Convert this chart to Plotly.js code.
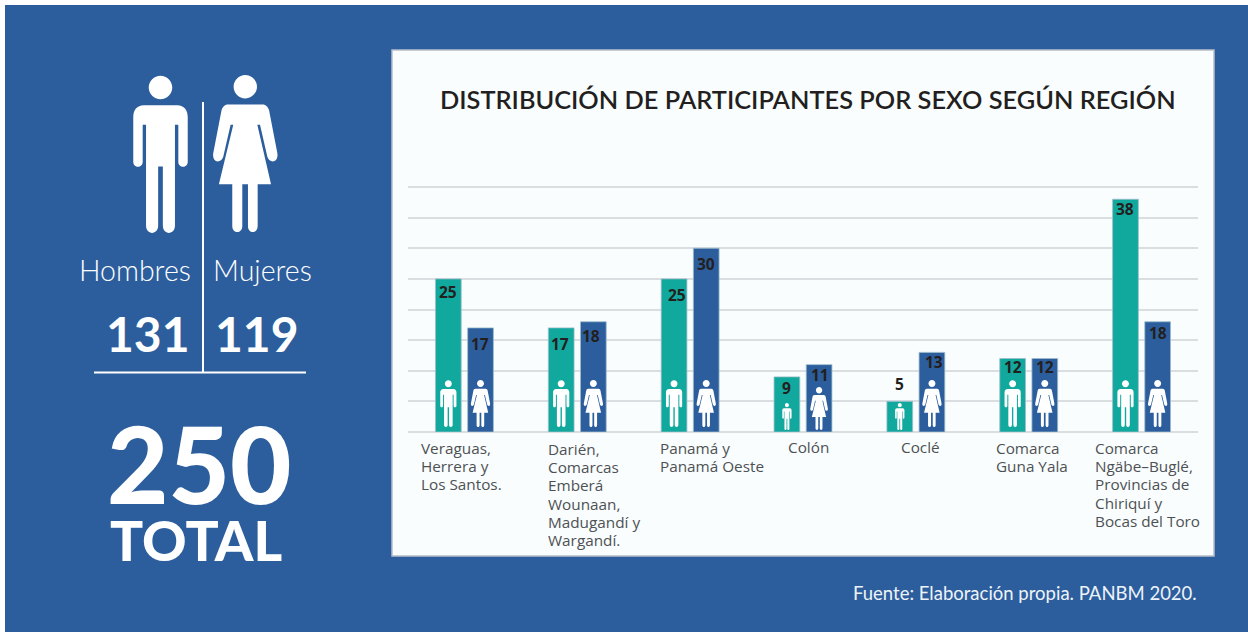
<!DOCTYPE html>
<html><head><meta charset="utf-8">
<script src="https://cdn.plot.ly/plotly-3.0.1.min.js"></script>
<style>html,body{margin:0;padding:0;background:#fff;overflow:hidden}#c{width:1248px;height:632px}</style>
</head><body><div id="c"></div>
<script>
// ---- data ----
const categories = [
  'Veraguas,<br>Herrera y<br>Los Santos.',
  'Darién,<br>Comarcas<br>Emberá<br>Wounaan,<br>Madugandí y<br>Wargandí.',
  'Panamá y<br>Panamá Oeste',
  'Colón',
  'Coclé',
  'Comarca<br>Guna Yala',
  'Comarca<br>Ngäbe–Buglé,<br>Provincias de<br>Chiriquí y<br>Bocas del Toro'
];
const hombres = [25, 17, 25, 9, 5, 12, 38];
const mujeres = [17, 18, 30, 11, 13, 12, 18];
const totalHombres = 131, totalMujeres = 119, total = 250;
const titleText = 'DISTRIBUCIÓN DE PARTICIPANTES POR SEXO SEGÚN REGIÓN';
const sourceText = 'Fuente: Elaboración propia. PANBM 2020.';

// ---- styling / placement tables ----
// T sits 2px above the 40 gridline so that Plotly does not clip the top gridline
const W = 1248, H = 632, L = 408, R = 1198, T = 185, B = 432, PX_PER_UNIT = 6.125;
const TEAL = '#11a89d', BLUE = '#2c5e9e', INK = '#231f20', GRID = '#dadee1';
const labelDxH = [0, -1, 3, 0, 0, 0, 0], labelDxM = [-1, -2, 0, 1, 2, 0, 0];
const labelDownH = [13, 16, 16, 11, -17, 8, 10], labelDownM = [16, 14, 16, 10, 10, 8, 11];
const manIconH = [47, 47, 47, 27, 27, 47, 47], womanIconH = [47, 47, 47, 43, 47, 47, 47];
const iconLift = h => (h < 47 ? 2 : 5);
const catLabelShift = [-45.5, -31.5, -32.5, -17.5, -16.5, -35.2, -49];
const catLabelY = [448, 449, 447.5, 446.5, 446.5, 448, 448];
const LINE_PITCH = 18.2;
const SLOT = 0.1425;

const px = x => (x - L) / (R - L), py = y => (B - y) / (B - T);

// icon outlines, drawn 470 units tall, origin at feet centre, y up
const MAN = 'M-35,433 C-35,452 -19,468 0,468 C19,468 35,452 35,433 C35,414 19,398 0,398 C-19,398 -35,414 -35,433 Z ' +
  'M-50,380 L50,380 C70,380 81,365 81,345 L81,212 C81,192 53,192 53,212 L53,322 L43,322 L43,22 C43,-7 7,-7 7,22 L7,198 L-7,198 L-7,22 C-7,-7 -43,-7 -43,22 L-43,322 L-53,322 L-53,212 C-53,192 -81,192 -81,212 L-81,345 C-81,365 -70,380 -50,380 Z';
const WOMAN = 'M-35,435 C-35,454 -19,470 0,470 C19,470 35,454 35,435 C35,416 19,400 0,400 C-19,400 -35,416 -35,435 Z ' +
  'M-52,382 L52,382 C62,382 68,374 71,365 L96,236 C100,205 72,205 66,225 L44,321 L36,321 L77,143 L37,143 L37,18 C37,-6 8,-6 8,18 L8,143 L-9,143 L-9,18 C-9,-6 -39,-6 -39,18 L-39,143 L-79,143 L-36,321 L-44,321 L-66,225 C-72,205 -100,205 -96,236 L-71,365 C-68,374 -62,382 -52,382 Z';
const scalePath = (p, h, lift) => p.replace(/(-?\d+),(-?\d+)/g, (m, a, b) =>
  (a * h / 470).toFixed(2) + ',' + (b * h / 470 + lift).toFixed(2));

const rect = (x0, y0, x1, y1, fill, line, layer) => ({type: 'rect', xref: 'paper', yref: 'paper',
  x0: px(x0), x1: px(x1), y0: py(y0), y1: py(y1), fillcolor: fill,
  line: line ? {color: line, width: 1.5} : {width: 0}, layer: layer || 'below'});
const seg = (x0, y0, x1, y1) => ({type: 'line', xref: 'paper', yref: 'paper',
  x0: px(x0), x1: px(x1), y0: py(y0), y1: py(y1), line: {color: '#fff', width: 2}, layer: 'below'});
const icon = (path, xref, xa, ya, yref, h, lift) => ({type: 'path', layer: 'above', xref, yref,
  xsizemode: 'pixel', ysizemode: 'pixel', xanchor: xa, yanchor: ya,
  path: scalePath(path, h, lift), fillcolor: '#fff', line: {width: 0}});

const shapes = [
  rect(5, 5, W, H, BLUE),
  rect(392, 50, 1214, 556, '#f9fdfe', '#b7bfc7'),
  seg(203, 102, 203, 372), seg(94, 372.5, 306, 372.5),
  icon(MAN, 'paper', px(160.5), py(233), 'paper', 158, 0),
  icon(WOMAN, 'paper', px(245.3), py(232), 'paper', 157, 0)
];
categories.forEach((c, i) => {
  shapes.push(icon(MAN, 'x', i - SLOT, 0, 'y', manIconH[i], iconLift(manIconH[i])));
  shapes.push(icon(WOMAN, 'x', i + SLOT, 0, 'y', womanIconH[i], iconLift(womanIconH[i])));
});

const note = (text, x, y, size, weight, family, anchor, color) => ({text: String(text), xref: 'paper', yref: 'paper',
  x: px(x), y: py(y), xanchor: anchor || 'center', yanchor: 'middle', showarrow: false,
  font: {size, weight, family, color: color || '#fff'}});

const annotations = [
  note('Hombres', 135, 269.5, 28.5, 300, 'Lato'),
  note('Mujeres', 262.5, 269.5, 28.5, 300, 'Lato'),
  note(totalHombres, 148, 333, 48, 700, 'Lato'),
  note(totalMujeres, 257, 333, 48, 700, 'Lato'),
  note(total, 199.5, 463, 106, 900, 'Lato'),
  note('TOTAL', 196, 540, 55, 900, 'Lato'),
  note(sourceText, 851, 593, 18.5, 400, 'Lato', 'left', '#eef3f8')
];
categories.forEach((c, i) => {
  c.split('<br>').forEach((line, k) => annotations.push({text: line, xref: 'x', yref: 'paper', x: i,
    y: py(catLabelY[i] + k * LINE_PITCH), xshift: catLabelShift[i],
    xanchor: 'left', yanchor: 'middle', align: 'left', showarrow: false,
    font: {family: 'Open Sans', size: 15.3, color: '#4e5154'}}));
  const lab = (v, off, dx, dn) => ({text: String(v), xref: 'x', yref: 'y', x: i + off, y: v, xshift: dx, yshift: -dn,
    xanchor: 'center', yanchor: 'middle', showarrow: false,
    font: {family: 'Open Sans', size: 15.5, weight: 700, color: INK}});
  annotations.push(lab(hombres[i], -SLOT, labelDxH[i], labelDownH[i]));
  annotations.push(lab(mujeres[i], SLOT, labelDxM[i], labelDownM[i]));
});

const barLine = {color: '#9dbcca', width: 0.8};
const traces = [
  {type: 'bar', name: 'Hombres', x: categories, y: hombres, marker: {color: TEAL, line: barLine}, hoverinfo: 'x+y+name'},
  {type: 'bar', name: 'Mujeres', x: categories, y: mujeres, marker: {color: BLUE, line: barLine}, hoverinfo: 'x+y+name'}
];
const layout = {
  width: W, height: H, autosize: false, showlegend: false,
  paper_bgcolor: '#fff', plot_bgcolor: 'rgba(0,0,0,0)',
  margin: {l: L, r: W - R, t: T, b: H - B, pad: 0},
  barmode: 'group', bargap: 0.43, bargroupgap: 0.2,
  title: {text: titleText, xref: 'container', yref: 'container', x: 440 / W, xanchor: 'left', y: 1 - 100 / H, yanchor: 'middle',
    font: {family: 'Lato', size: 25.35, weight: 600, color: INK}},
  xaxis: {type: 'category', categoryorder: 'array', categoryarray: categories, range: [-0.5, 6.5], showticklabels: false, ticks: '', showgrid: false, zeroline: false, showline: false},
  yaxis: {range: [0, (B - T) / PX_PER_UNIT], dtick: 5, tick0: 0, showticklabels: false, ticks: '', showgrid: true, gridcolor: GRID, gridwidth: 1.5, zeroline: true, zerolinecolor: GRID, zerolinewidth: 2, showline: false},
  shapes, annotations
};
Plotly.newPlot('c', traces, layout, {displayModeBar: false, responsive: false});
</script></body></html>
